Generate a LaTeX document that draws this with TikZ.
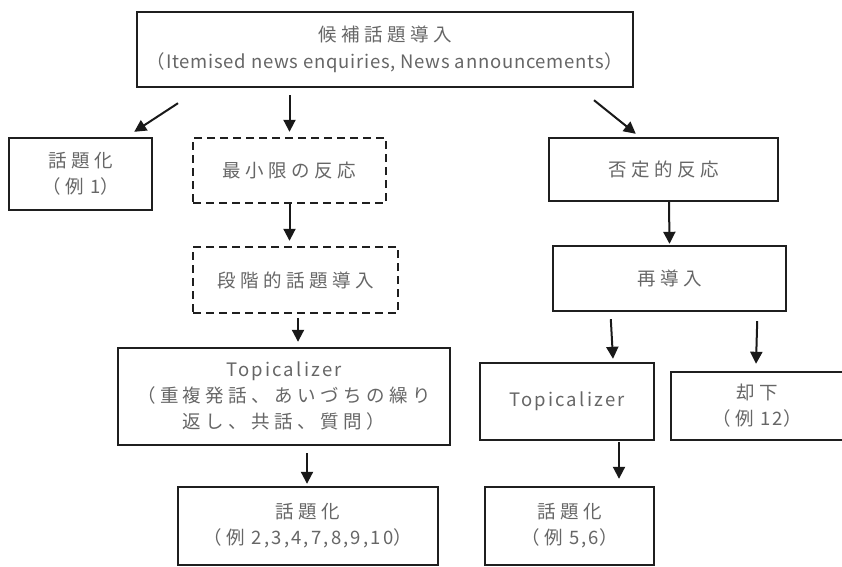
\documentclass[tikz,border=0pt]{standalone}
\usepackage{fontspec}
\newfontfamily\jp[LetterSpace=24]{Noto Sans CJK JP}
\newfontfamily\lt[LetterSpace=12]{Noto Sans CJK JP}
\newfontfamily\ltn[LetterSpace=4]{Noto Sans CJK JP}
\usetikzlibrary{arrows.meta,calc}
\begin{document}
\begin{tikzpicture}[x=1pt,y=-1pt,
  box/.style={draw=black!88, line width=2.4pt, rectangle, inner sep=0pt, align=center,
    text=black!60, font=\fontsize{18.5}{26}\selectfont},
  dbox/.style={box, dash pattern=on 8pt off 5pt},
  arr/.style={line width=2pt, draw=black!90, -{Triangle[length=12pt,width=12pt]}}]
\useasboundingbox (0,0) rectangle (842,566);
\fill[white] (0,0) rectangle (842,566);
\begin{scope}
\clip (0,0) rectangle (842,566);
% left column
\node[box, minimum width=496pt, minimum height=75pt] (T) at (385,49.5)
  {{\jp 候補話題導入}\\[1pt]{\ltn （Itemised news enquiries, News announcements）}};
\node[box, minimum width=143pt, minimum height=72pt] (B1) at (80.5,174)
  {{\jp 話題化}\\{\jp （例}{\lt\ 1}{\jp ）}};
\node[dbox, minimum width=193pt, minimum height=65pt] (D1) at (289.5,170.5)
  {\jp 最小限の反応};
\node[dbox, minimum width=205pt, minimum height=66pt] (D2) at (295.5,280)
  {\jp 段階的話題導入};
\node[box, minimum width=332pt, minimum height=97pt] (TL) at (284,396.5)
  {{\lt Topicalizer}\\{\jp （重複発話、あいづちの繰り}\\{\jp 返し、共話、質問）}};
\node[box, minimum width=260pt, minimum height=78pt] (BL) at (308,526)
  {{\jp 話題化}\\{\jp （例}{\lt\ 2,3,4,7,8,9,10}{\jp ）}};
% right column
\node[box, minimum width=229pt, minimum height=63pt] (N) at (663.5,169.5)
  {\jp 否定的反応};
\node[box, minimum width=233pt, minimum height=65pt] (R) at (669.5,278.5)
  {\jp 再導入};
\node[box, minimum width=174pt, minimum height=77pt] (TR) at (567,401.5)
  {\lt Topicalizer};
\node[box, minimum width=172pt, minimum height=68pt] (K) at (757,406)
  {{\jp 却下}\\{\jp （例}{\lt\ 12}{\jp ）}};
\node[box, minimum width=169pt, minimum height=78pt] (BR) at (569.5,526)
  {{\jp 話題化}\\{\jp （例}{\lt\ 5,6}{\jp ）}};
\end{scope}
% connectors
\coordinate (s1) at ($(T.south)+(-207,15)$);
\coordinate (s2) at ($(T.south)+(-95.5,7)$);
\coordinate (s3) at ($(T.south)+(209,12)$);
\draw[arr] (s1) -- ($(B1.north east)+(-19,-5)$);
\draw[arr, shorten >=5pt] (s2) -- (D1.north);
\draw[arr] (s3) -- ($(N.north west)+(88,-3)$);
\draw[arr] (D1.south) -- ($(D2.north)+(-6,-5)$);
\draw[arr] ($(D2.south)+(2.5,4)$) -- ($(TL.north)+(14,-5)$);
\draw[arr] ($(TL.south)+(23,7)$) -- ($(BL.north)+(-1,-2)$);
\draw[arr] ($(N.south)+(5.5,0)$) -- ($(R.north)+(0,-1)$);
\draw[arr] ($(R.south west)+(59,7)$) -- ($(TR.north)+(46,-3)$);
\draw[arr] ($(R.south east)+(-30,9)$) -- ($(K.north)+(-1,-7)$);
\draw[arr] ($(TR.south)+(52,1)$) -- ($(BR.north)+(49.5,-7)$);
\end{tikzpicture}
\end{document}
